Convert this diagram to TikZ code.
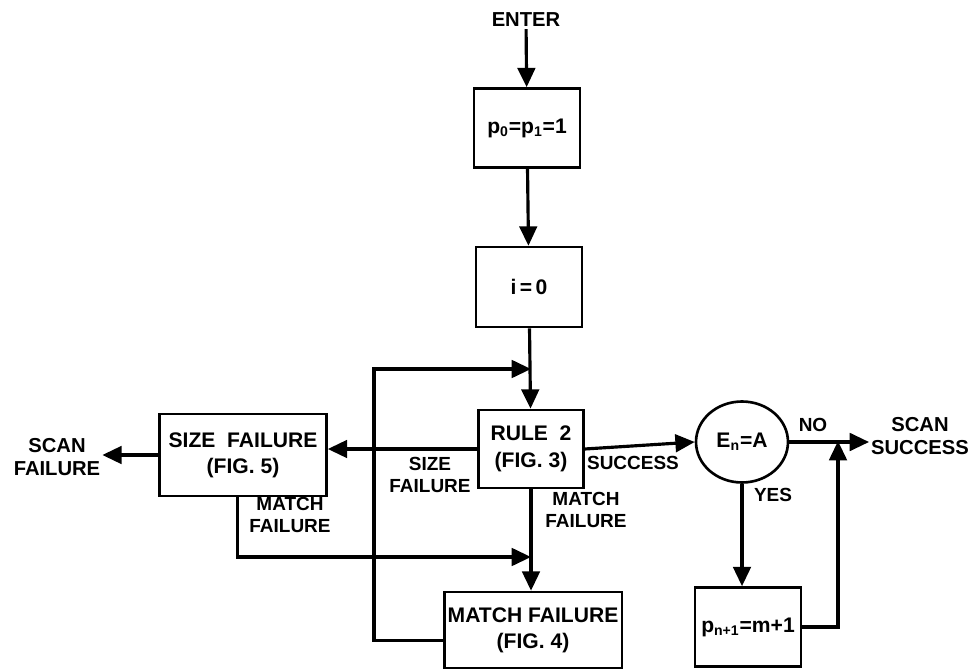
\documentclass[tikz,border=0pt]{standalone}
\usepackage{fontspec}
\setmainfont{Liberation Sans}
\usetikzlibrary{shapes.geometric, arrows.meta, positioning}
\tikzset{
    bloco/.style   = {draw, line width=1.5pt, align=center, inner sep=2pt,
                      font=\fontsize{12}{15}\selectfont\bfseries},
    decisao/.style = {draw, ellipse, line width=1.5pt, inner sep=1pt,
                      minimum width=1.84cm, minimum height=1.62cm,
                      font=\fontsize{12}{15}\selectfont\bfseries},
    rotulo/.style  = {align=center, inner sep=1pt,
                      font=\fontsize{10.8}{12}\selectfont\bfseries},
    saida/.style   = {align=center, inner sep=1pt,
                      font=\fontsize{11.5}{13}\selectfont\bfseries},
    lig/.style     = {-{Triangle[length=11pt,width=10pt]}, line width=1.8pt},
}

\begin{document}
\begin{tikzpicture}[x=0.02cm, y=-0.02cm]
    \useasboundingbox (0,0) rectangle (976,672);
    % entrada
    \node[saida] (ent) at (526,20) {ENTER};
    \node[bloco, minimum width=2.12cm, minimum height=1.58cm] (p0) at (527,128)
        {p\textsubscript{0}=p\textsubscript{1}=1};
    \node[bloco, minimum width=2.12cm, minimum height=1.60cm] (i0) at (529,287) {i\,=\,0};
    \node[bloco, minimum width=2.10cm, minimum height=1.56cm] (regra) at (531,449)
        {RULE\ \ 2\\(FIG.\ 3)};
    \node[bloco, minimum width=3.34cm, minimum height=1.64cm] (tam) at (243,455)
        {SIZE\ \ FAILURE\\(FIG.\ 5)};
    \node[bloco, minimum width=3.54cm, minimum height=1.52cm] (casa) at (533,630)
        {MATCH FAILURE\\(FIG.\ 4)};
    \node[decisao] (teste) at (742,442) {E\textsubscript{n}=A};
    \node[bloco, minimum width=2.12cm, minimum height=1.58cm] (pn) at (748,627)
        {p\textsubscript{n+1}=m+1};
    % saidas
    \node[saida] (falha) at (57,457) {SCAN\\FAILURE};
    \node[saida] (exito) at (920,436) {SCAN\\SUCCESS};
    % pontos de juncao
    \coordinate (j1) at (531,369);
    \coordinate (j2) at (531,557);
    \coordinate (j3) at (838,441);
    \coordinate (vol) at (374,369);
    % ligacoes
    \draw[lig] (ent) -- (p0);
    \draw[lig] (p0) -- (i0);
    \draw[lig] (i0) -- (regra);
    \draw[lig] (regra.west) -- (regra.west -| tam.east);
    \draw[lig] (tam.west) -- (falha.east |- tam.west);
    \draw[lig] (regra.south) -- (regra.south |- casa.north);
    \draw[lig] (regra.east) -- (teste.west);
    \draw[lig] (teste.east) -- (teste.east -| exito.west);
    \draw[lig] (teste.south) -- (teste.south |- pn.north);
    \draw[lig] (pn.east) -| (j3);
    \draw[lig] ([yshift=-6pt]casa.west) -| (vol) -- (j1);
    \draw[lig] ([xshift=-3pt]tam.south) |- (j2);
    % rotulos
    \node[rotulo] at (430,475) {SIZE\\FAILURE};
    \node[rotulo] at (290,515) {MATCH\\FAILURE};
    \node[rotulo] at (586,510) {MATCH\\FAILURE};
    \node[rotulo] at (633,463) {SUCCESS};
    \node[rotulo] at (813,425) {NO};
    \node[rotulo] at (773,495) {YES};
\end{tikzpicture}
\end{document}
